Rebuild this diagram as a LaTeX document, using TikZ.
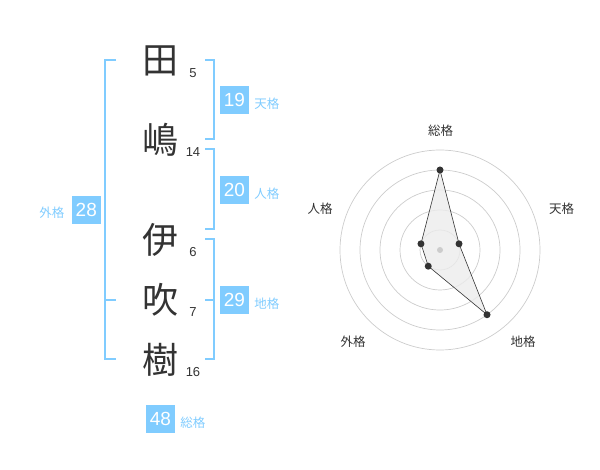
\documentclass[tikz,border=0pt]{standalone}
\usepackage{fontspec}
\setmainfont{Liberation Sans}
\newfontfamily\cjk{Noto Sans CJK JP}
\usetikzlibrary{positioning}
\definecolor{kakublue}{HTML}{80CCFF}
\definecolor{textgray}{HTML}{333333}
\definecolor{ringgray}{HTML}{CCCCCC}
\begin{document}
\begin{tikzpicture}[x=1pt, y=-1pt,
  kanji/.style={font=\cjk\fontsize{36}{36}\selectfont, text=textgray, inner sep=0pt},
  strokes/.style={font=\fontsize{13}{13}\selectfont, text=textgray, inner sep=0pt},
  valbox/.style={fill=kakublue, text=white, minimum width=29pt, minimum height=28pt, inner sep=0pt, font=\fontsize{19}{19}\selectfont},
  kaku/.style={font=\cjk\fontsize{12.5}{12.5}\selectfont, text=kakublue, inner sep=0pt},
  axislabel/.style={font=\cjk\fontsize{12.5}{12.5}\selectfont, text=textgray, inner sep=0pt},
  bracket/.style={draw=kakublue, line width=1.5pt},
  dot/.style={circle, fill=textgray, inner sep=0pt, minimum size=7pt}]

\useasboundingbox (0,0) rectangle (600,470);

\foreach \k/\c/\y/\n in {ta/田/61/5, shima/嶋/140/14, i/伊/240/6, fuki/吹/300/7, ki/樹/360/16}
{
  \node[kanji] (\k) at (160,\y) {\c};
  \node[strokes] (n\k) at (193,\y+12.5) {\n};
}

\draw[bracket] (116,60) -- (105,60) -- (105,359) -- (116,359);
\draw[bracket] (105,300) -- (116,300);
\draw[bracket] (205,60) -- (214,60) -- (214,139) -- (205,139);
\draw[bracket] (205,149) -- (214,149) -- (214,229) -- (205,229);
\draw[bracket] (205,239) -- (214,239) -- (214,359) -- (205,359);
\draw[bracket] (205,300) -- (214,300);

\foreach \name/\v/\x/\y/\lbl in {ten/19/234.5/100/天格, jin/20/234.5/190/人格, chi/29/234.5/300/地格, sou/48/160.5/419/総格}
{
  \node[valbox] (b\name) at (\x,\y) {\v};
  \node[kaku, right=5pt of b\name, yshift=-4pt] (l\name) {\lbl};
}
\node[valbox] (bgai) at (86.3,210) {28};
\node[kaku, left=7pt of bgai, yshift=-3pt] (lgai) {外格};

\begin{scope}[shift={(440,250)}, yscale=-1]
  \foreach \r in {20,40,60,80,100}
    \draw[ringgray, line width=0.7pt] (0,0) circle (\r);
  \coordinate (psou) at (90:80);
  \coordinate (pten) at (18:20);
  \coordinate (pchi) at (-54:80);
  \coordinate (pgai) at (-126:20);
  \coordinate (pjin) at (162:20);
  \fill[gray!15, opacity=0.8] (psou) -- (pten) -- (pchi) -- (pgai) -- (pjin) -- cycle;
  \draw[textgray, line width=0.6pt] (psou) -- (pten) -- (pchi) -- (pgai) -- (pjin) -- cycle;
  \node[circle, fill=ringgray, inner sep=0pt, minimum size=6pt] (center) at (0,0) {};
  \foreach \p in {psou, pten, pchi, pgai, pjin}
    \node[dot] (d\p) at (\p) {};
\end{scope}

\node[axislabel] (asou) at (440.7,130.7) {総格};
\node[axislabel] (aten) at (561.7,208.3) {天格};
\node[axislabel] (achi) at (523,341.7) {地格};
\node[axislabel] (agai) at (353,341.7) {外格};
\node[axislabel] (ajin) at (320,208.3) {人格};

\end{tikzpicture}
\end{document}
